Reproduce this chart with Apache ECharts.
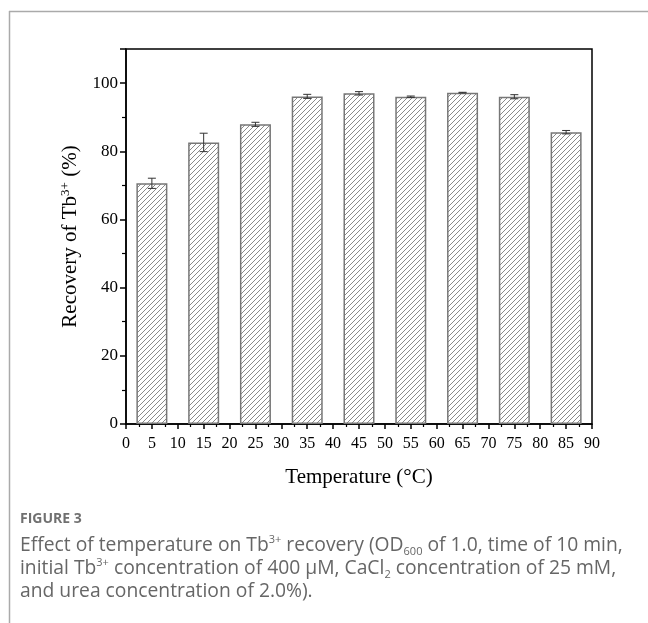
<!DOCTYPE html>
<html>
<head>
<meta charset="utf-8">
<script src="https://cdn.jsdelivr.net/npm/echarts@6/dist/echarts.min.js"></script>
<style>html,body{margin:0;padding:0;background:#fff}#c{width:648px;height:623px}</style>
</head>
<body>
<div id="c"></div>
<script>
// Data
var temperatures = [5, 15, 25, 35, 45, 55, 65, 75, 85];
var recovery = [70.6, 82.6, 87.9, 96.1, 97.0, 96.0, 97.2, 96.0, 85.6];
var errors = [1.5, 2.7, 0.6, 0.6, 0.5, 0.2, 0.1, 0.6, 0.5];
var xTicks = [0, 90, 5];   // min, max, interval
var yTicks = [0, 110, 20];

function hatch() {
  var n = 5;
  var c = document.createElement('canvas');
  c.width = n; c.height = n;
  var g = c.getContext('2d');
  g.fillStyle = '#fff'; g.fillRect(0, 0, n, n);
  g.strokeStyle = '#8a8a8a'; g.lineWidth = 1;
  g.beginPath();
  g.moveTo(0, n); g.lineTo(n, 0);
  g.moveTo(-1, 1); g.lineTo(1, -1);
  g.moveTo(n - 1, n + 1); g.lineTo(n + 1, n - 1);
  g.stroke();
  return c;
}

var barData = temperatures.map(function (t, i) { return [t, recovery[i]]; });
var errData = temperatures.map(function (t, i) { return [t, recovery[i] - errors[i], recovery[i] + errors[i]]; });

var chart = echarts.init(document.getElementById('c'));
var serif = '"Liberation Serif", "Times New Roman", serif';
var sans = '"Open Sans", "Noto Sans", sans-serif';

chart.setOption({
  animation: false,
  grid: { left: 126, right: 56, top: 49, bottom: 199, show: true, borderColor: '#000', borderWidth: 1.5, backgroundColor: 'transparent' },
  xAxis: {
    type: 'value', min: xTicks[0], max: xTicks[1], interval: xTicks[2],
    name: 'Temperature (°C)', nameLocation: 'middle', nameGap: 43,
    nameTextStyle: { fontFamily: serif, fontSize: 21, color: '#000' },
    axisLine: { show: true, lineStyle: { color: '#000', width: 1.5 } },
    axisTick: { show: true, inside: false, length: 5, lineStyle: { color: '#000', width: 1.5 } },
    minorTick: { show: true, splitNumber: 2, length: 3, lineStyle: { color: '#000', width: 1.2 } },
    axisLabel: { fontFamily: serif, fontSize: 16, color: '#000', margin: 12 },
    splitLine: { show: false }
  },
  yAxis: {
    type: 'value', min: yTicks[0], max: yTicks[1], interval: yTicks[2],
    name: '{n|Recovery of Tb}{s|3+}{n| (%)}', nameLocation: 'middle', nameGap: 37, nameRotate: 90,
    nameTextStyle: { rich: {
      n: { fontFamily: serif, fontSize: 21, color: '#000', lineHeight: 24 },
      s: { fontFamily: serif, fontSize: 13, color: '#000', verticalAlign: 'top', lineHeight: 24, padding: [0, 0, 10, 0] }
    } },
    axisLine: { show: true, lineStyle: { color: '#000', width: 1.5 } },
    axisTick: { show: true, inside: false, length: 6, lineStyle: { color: '#000', width: 1.5 } },
    minorTick: { show: true, splitNumber: 2, length: 4, lineStyle: { color: '#000', width: 1.2 } },
    axisLabel: { fontFamily: serif, fontSize: 17, color: '#000', margin: 8,
      formatter: function (v) { return v > 100 ? '' : v; } },
    splitLine: { show: false }
  },
  series: [
    {
      type: 'bar', data: barData, barWidth: 31,
      itemStyle: { color: { image: hatch(), repeat: 'repeat' }, borderColor: '#777', borderWidth: 1.5 },
      silent: true
    },
    {
      type: 'custom', data: errData, z: 5, silent: true,
      renderItem: function (params, api) {
        var x = api.value(0);
        var lo = api.coord([x, api.value(1)]);
        var hi = api.coord([x, api.value(2)]);
        var w = 4;
        var st = { stroke: '#333', lineWidth: 1 };
        return { type: 'group', children: [
          { type: 'line', shape: { x1: lo[0], y1: lo[1], x2: hi[0], y2: hi[1] }, style: st },
          { type: 'line', shape: { x1: lo[0] - w, y1: lo[1], x2: lo[0] + w, y2: lo[1] }, style: st },
          { type: 'line', shape: { x1: hi[0] - w, y1: hi[1], x2: hi[0] + w, y2: hi[1] }, style: st }
        ] };
      }
    }
  ],
  graphic: [
    { type: 'line', shape: { x1: 9, y1: 11.5, x2: 648, y2: 11.5 }, style: { stroke: '#aaa', lineWidth: 1.5 } },
    { type: 'line', shape: { x1: 9.5, y1: 11, x2: 9.5, y2: 623 }, style: { stroke: '#aaa', lineWidth: 1.5 } },
    { type: 'text', left: 20, top: 512, style: { text: 'FIGURE 3', font: 'bold 14px ' + sans, fill: '#707070' } },
    { type: 'text', left: 20, top: 534, style: {
      text: '{n|Effect of temperature on Tb}{s|3+}{n| recovery (OD}{b|600}{n| of 1.0, time of 10 min,}\n' +
            '{n|initial Tb}{s|3+}{n| concentration of 400 µM, CaCl}{b|2}{n| concentration of 25 mM,}\n' +
            '{n|and urea concentration of 2.0%).}',
      rich: {
        n: { fontFamily: sans, fontSize: 19.3, fill: '#666', lineHeight: 23 },
        s: { fontFamily: sans, fontSize: 11, fill: '#666', lineHeight: 23, verticalAlign: 'top', padding: [0, 0, 8, 0] },
        b: { fontFamily: sans, fontSize: 11, fill: '#666', lineHeight: 23, verticalAlign: 'bottom', padding: [6, 0, 0, 0] }
      }
    } }
  ]
});
</script>
</body>
</html>
